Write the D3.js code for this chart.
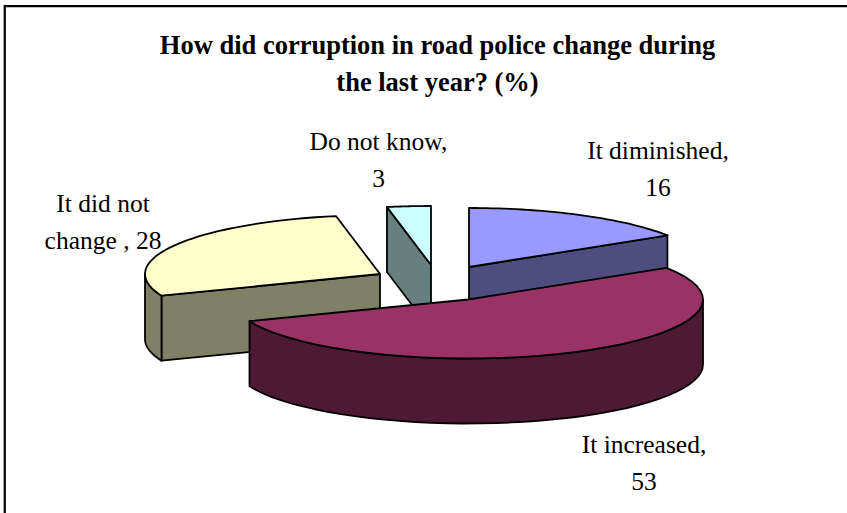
<!DOCTYPE html>
<html><head><meta charset="utf-8">
<script src="https://cdn.jsdelivr.net/npm/d3@7"></script>
<style>html,body{margin:0;padding:0;background:#fff}svg{display:block}
text{font-family:"Liberation Serif",serif;fill:#000}</style></head>
<body><svg id="c" width="847" height="513"></svg>
<script>
const categories = ["It diminished", "It increased", "It did not change", "Do not know"];
const values = [16, 53, 28, 3];
const topColors = ["#9999FF", "#993366", "#FFFFCC", "#CCFFFF"];
const sideColors = ["#4D4D80", "#4D1933", "#808066", "#668080"];
const titleLines = ["How did corruption in road police change during", "the last year? (%)"];
const labelLines = [["It diminished,", "16"], ["It increased,", "53"], ["It did not", "change , 28"], ["Do not know,", "3"]];

const svg = d3.select("#c");
svg.append("path").attr("d","M4.75 513V6.2H847").attr("fill","none").attr("stroke","#000").attr("stroke-width",2.2);

svg.selectAll(".title").data(titleLines).join("text").attr("class","title")
  .attr("x",437.5).attr("y",(d,i)=>54+i*37).attr("text-anchor","middle")
  .attr("font-size",26.5).attr("font-weight","bold").text(d=>d);

const RX = 235, RY = 59, DEPTH = 65;
const apex = [[469,267],[468,299.5],[380,274],[431,265]];
const labelPos = [[658,159],[644,453],[103,212],[378.5,150]];

const pie = d3.pie().sort(null).startAngle(0).endAngle(2*Math.PI)(values);
const sx = d3.scaleLinear().domain([-1,1]).range([-RX,RX]);
const sy = d3.scaleLinear().domain([-1,1]).range([-RY,RY]);
const line = d3.line();
const arcPts = (a0,a1,o,dz) => d3.range(0,41).map(i=>{
  const a = a0+(a1-a0)*i/40;
  return [o[0]+sx(Math.sin(a)), o[1]+sy(-Math.cos(a))+dz];
});
const ed = {stroke:"#000","stroke-width":1.8,"stroke-linejoin":"round"};
function draw(i){
  const s = pie[i], o = apex[i], g = svg.append("g");
  const paint = (pts,fill)=>{const p=g.append("path").attr("d",line(pts)+"Z").attr("fill",fill);
    Object.entries(ed).forEach(([k,v])=>p.attr(k,v));};
  const side = sideColors[i];
  // flat cut faces that look towards the viewer
  [s.startAngle,s.endAngle].forEach((a,k)=>{
    if(Math.abs(Math.sin(a))<1e-6) return;
    const facing = k===0 ? -Math.sin(a)>0 : Math.sin(a)>0;
    const e=[o[0]+sx(Math.sin(a)),o[1]+sy(-Math.cos(a))];
    if(facing) paint([o,e,[e[0],e[1]+DEPTH],[o[0],o[1]+DEPTH]],side);
  });
  // outer rim: visible part is the front half of the ellipse
  const a0=Math.max(s.startAngle,Math.PI/2), a1=Math.min(s.endAngle,3*Math.PI/2);
  if(a1>a0){
    const t=arcPts(a0,a1,o,0), b=arcPts(a0,a1,o,DEPTH).reverse();
    paint(t.concat(b),side);
  }
  paint([o].concat(arcPts(s.startAngle,s.endAngle,o,0)),topColors[i]);
}
[2,3,0,1].forEach(draw);

labelLines.forEach((ls,i)=>{
  svg.append("g").selectAll("text").data(ls).join("text")
   .attr("x",labelPos[i][0]).attr("y",(d,k)=>labelPos[i][1]+k*37)
   .attr("text-anchor","middle").attr("font-size",25.5).text(d=>d);
});
</script></body></html>
